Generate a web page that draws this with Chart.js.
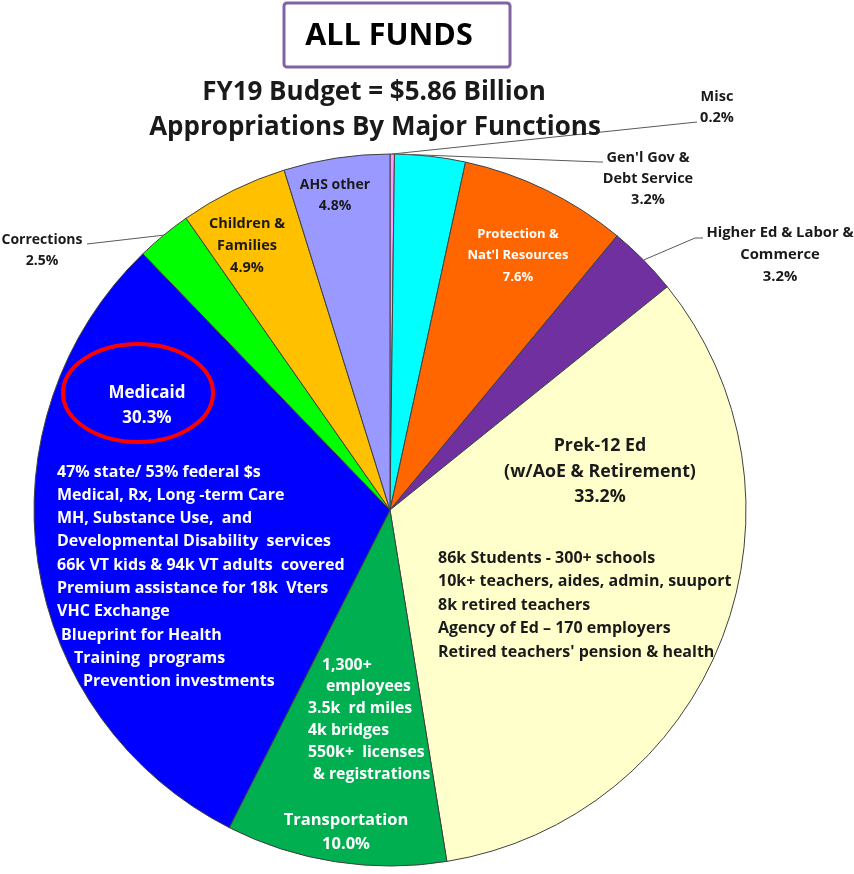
<!DOCTYPE html>
<html>
<head>
<meta charset="utf-8">
<title>FY19 Budget - All Funds</title>
<script src="https://cdn.jsdelivr.net/npm/chart.js@4.4.1/dist/chart.umd.min.js"></script>
<style>
  html, body { margin: 0; padding: 0; background: #fff; }
  #wrap { position: relative; width: 854px; height: 874px; }
  canvas { display: block; }
</style>
</head>
<body>
<div id="wrap"><canvas id="budget-chart" width="854" height="874"></canvas></div>
<script>
// slices, clockwise from 12 o'clock
const functions = [
  'Misc',
  "Gen'l Gov & Debt Service",
  "Protection & Nat'l Resources",
  'Higher Ed & Labor & Commerce',
  'Prek-12 Ed (w/AoE & Retirement)',
  'Transportation',
  'Medicaid',
  'Corrections',
  'Children & Families',
  'AHS other',
];
const sharePct = [0.2, 3.2, 7.6, 3.2, 33.2, 10.0, 30.3, 2.5, 4.9, 4.8];
const sliceColors = [
  '#ff99ff', '#00ffff', '#ff6600', '#7030a0', '#ffffcc',
  '#00b050', '#0000ff', '#00ff00', '#ffc000', '#9999ff',
];

const medicaidNotes = [
  '47% state/ 53% federal $s',
  'Medical, Rx, Long -term Care',
  'MH, Substance Use,  and',
  'Developmental Disability  services',
  '66k VT kids & 94k VT adults  covered',
  'Premium assistance for 18k  Vters',
  'VHC Exchange',
  'Blueprint for Health',
  'Training  programs',
  'Prevention investments',
];
const prekNotes = [
  '86k Students - 300+ schools',
  '10k+ teachers, aides, admin, suuport',
  '8k retired teachers',
  'Agency of Ed \u2013 170 employers',
  "Retired teachers' pension & health",
];
const transportNotes = [
  '1,300+',
  'employees',
  '3.5k  rd miles',
  '4k bridges',
  '550k+  licenses',
  '& registrations',
];

const FONT = '"Open Sans", Lato, sans-serif';
const DARK = '#1a1a1a';
const pct = (i) => sharePct[i].toFixed(1) + '%';

// label placement, offsets from the pie centre
const labelSpecs = [
  { i: 0, lines: ['Misc', pct(0)], dx: 327, dy: -413, size: 14.5, lh: 21, color: DARK,
    leader: { frac: 0.5, pts: [[307, -388]] } },
  { i: 1, lines: ["Gen'l Gov &", 'Debt Service', pct(1)], dx: 258, dy: -352, size: 14.5, lh: 21, color: DARK,
    leader: { frac: 0.1, pts: [[210, -348], [213, -348]] } },
  { i: 2, lines: ['Protection &', "Nat'l Resources", pct(2)], dx: 128, dy: -276, size: 13, lh: 21.5, color: '#fff' },
  { i: 3, lines: ['Higher Ed & Labor &', 'Commerce', pct(3)], dx: 390, dy: -277, size: 14.8, lh: 22, color: DARK,
    leader: { frac: 0.5, pts: [[305, -272], [313, -272]] } },
  { i: 4, lines: ['Prek-12 Ed', '(w/AoE & Retirement)', pct(4)], dx: 210, dy: -64, size: 17.8, lh: 25.5, color: DARK },
  { i: 5, lines: ['Transportation', pct(5)], dx: -44, dy: 310, size: 16.5, lh: 24, color: '#fff' },
  { i: 6, lines: ['Medicaid', pct(6)], dx: -243, dy: -117, size: 17, lh: 25, color: '#fff',
    ring: { dx: -252, dy: -117, rx: 75, ry: 49 } },
  { i: 7, lines: ['Corrections', pct(7)], dx: -348, dy: -270, size: 14, lh: 21, color: DARK,
    leader: { frac: 0.5, pts: [[-303, -266]] } },
  { i: 8, lines: ['Children &', 'Families', pct(8)], dx: -143, dy: -286, size: 14.5, lh: 22, color: DARK },
  { i: 9, lines: ['AHS other', pct(9)], dx: -55, dy: -325, size: 14, lh: 21.5, color: DARK },
];

const noteBlocks = [
  { lines: medicaidNotes, dx: -333, dy: -38, size: 16, lh: 23.3, color: '#fff',
    indent: [0, 0, 0, 0, 0, 0, 0, 4, 17, 26] },
  { lines: prekNotes, dx: 48, dy: 48, size: 16, lh: 23.5, color: DARK },
  { lines: transportNotes, dx: -82, dy: 155, size: 15.8, lh: 21.8, color: '#fff',
    indent: [14, 18, 0, 0, 0, 5] },
];

const pieDecor = {
  id: 'pieDecor',
  afterDatasetsDraw(chart) {
    const { ctx } = chart;
    const arcs = chart.getDatasetMeta(0).data;
    const cx = arcs[0].x;
    const cy = arcs[0].y;
    const R = arcs[0].outerRadius;

    ctx.save();
    // leader lines
    ctx.strokeStyle = '#595959';
    ctx.lineWidth = 1;
    labelSpecs.forEach((s) => {
      if (!s.leader) return;
      const a = arcs[s.i];
      const ang = a.startAngle + s.leader.frac * (a.endAngle - a.startAngle);
      ctx.beginPath();
      ctx.moveTo(cx + R * Math.cos(ang), cy + R * Math.sin(ang));
      s.leader.pts.forEach(([x, y]) => ctx.lineTo(cx + x, cy + y));
      ctx.stroke();
    });

    ctx.textBaseline = 'middle';
    labelSpecs.forEach((s) => {
      ctx.fillStyle = s.color;
      ctx.textAlign = 'center';
      ctx.font = `bold ${s.size}px ${FONT}`;
      s.lines.forEach((t, k) => ctx.fillText(t, cx + s.dx, cy + s.dy + k * s.lh));
      if (s.ring) {
        ctx.strokeStyle = '#ff0000';
        ctx.lineWidth = 4;
        ctx.beginPath();
        ctx.ellipse(cx + s.ring.dx, cy + s.ring.dy, s.ring.rx, s.ring.ry, 0, 0, Math.PI * 2);
        ctx.stroke();
      }
    });

    noteBlocks.forEach((b) => {
      ctx.fillStyle = b.color;
      ctx.textAlign = 'left';
      ctx.font = `bold ${b.size}px ${FONT}`;
      b.lines.forEach((t, k) => {
        const ind = b.indent ? b.indent[k] : 0;
        ctx.fillText(t, cx + b.dx + ind, cy + b.dy + k * b.lh);
      });
    });

    // headline box and title
    ctx.strokeStyle = '#8064a2';
    ctx.lineWidth = 3;
    ctx.beginPath();
    ctx.roundRect(284, 3, 226, 64, 3);
    ctx.stroke();
    ctx.fillStyle = '#000';
    ctx.textAlign = 'center';
    ctx.font = `bold 30.5px ${FONT}`;
    ctx.fillText('ALL FUNDS', 389, 36);
    ctx.fillStyle = DARK;
    ctx.font = `bold 26px ${FONT}`;
    ctx.fillText('FY19 Budget = $5.86 Billion', 374, 93);
    ctx.fillText('Appropriations By Major Functions', 375, 128);
    ctx.restore();
  },
};

new Chart(document.getElementById('budget-chart'), {
  type: 'pie',
  data: {
    labels: functions,
    datasets: [{
      data: sharePct,
      backgroundColor: sliceColors,
      borderColor: '#404040',
      borderWidth: 1,
      hoverOffset: 0,
    }],
  },
  options: {
    responsive: false,
    animation: false,
    devicePixelRatio: 1,
    radius: 356,
    layout: { padding: { left: 34, right: 108, top: 154, bottom: 8 } },
    plugins: {
      legend: { display: false },
      tooltip: { enabled: false },
    },
  },
  plugins: [pieDecor],
});
</script>
</body>
</html>
